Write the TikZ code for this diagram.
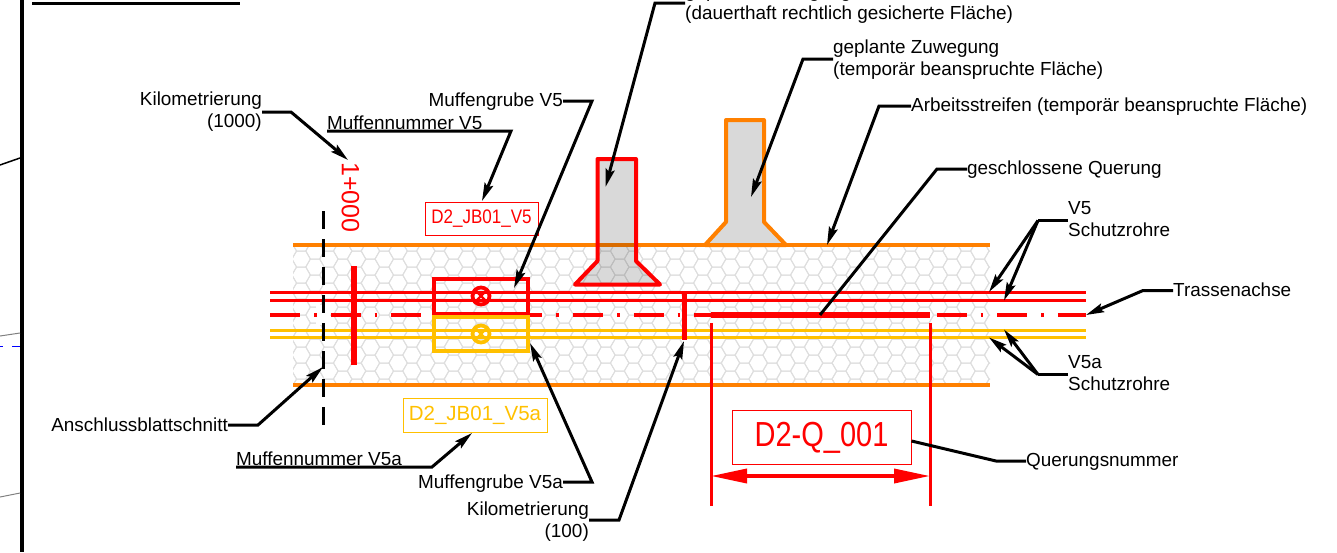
\documentclass[tikz,border=0pt]{standalone}
\usepackage{fontspec}
\setmainfont{Liberation Sans}
\usetikzlibrary{arrows.meta}

\definecolor{stripeorange}{RGB}{255,128,0}
\definecolor{pipeyellow}{RGB}{255,192,0}

\def\redfunnel{(597.5,159) -- (636,159) -- (636,261) -- (660,284.5) -- (575,284.5) -- (597.5,261) -- cycle}
\def\orangefunnel{(726,120) -- (764,120) -- (764,222) -- (786,245) -- (705,245) -- (726,222) -- cycle}
\def\redpit{(433.5,279) rectangle (528,313.5)}
\def\yellowpit{(433.5,316.8) rectangle (528,351)}

\tikzset{
  lbl/.style={inner sep=0pt, font=\fontsize{18.9}{22}\selectfont},
  leader/.style={draw=black, line width=3pt, line join=miter},
  tipped/.style={leader, -{Stealth[length=18pt,width=9pt,inset=3pt]}},
  tagbox/.style={draw, line width=1pt, inner sep=0pt, minimum height=33pt},
  funnel/.style={line width=4pt, fill=black, fill opacity=0.15, line join=round},
  hexline/.style={draw=black!13, line width=1pt},
}

\begin{document}
\begin{tikzpicture}[x=1pt,y=-1pt]
\useasboundingbox (0,0) rectangle (1337,552);

% sheet frame and neighbouring sheet
\draw[line width=4pt] (21.5,0) -- (21.5,552);
\draw[line width=3pt] (32,3) -- (240,3);
\draw[line width=1.5pt] (0,165) -- (20,158);
\draw[line width=1pt, gray] (0,336) -- (20,333);
\draw[line width=1pt, gray] (0,497) -- (20,493);
\draw[line width=.8pt, blue] (0,346) -- (3,346) (12,346) -- (20,346);

% hex filling of the working strip
\begin{scope}
  \clip (293,245) rectangle (990,385);
  \foreach \col in {0,...,52} {
    \foreach \row in {-1,...,9} {
      \pgfmathsetmacro\hexx{287.3+13.85*\col}
      \pgfmathsetmacro\hexy{251+16*\row+8*mod(\col,2)}
      \draw[hexline, shift={(\hexx,\hexy)}] (-9.235,0) -- (-4.62,-8) -- (4.62,-8) -- (9.235,0) -- (4.62,8) -- (-4.62,8) -- cycle;
    }
  }
\end{scope}
\fill[white] (316,305) rectangle (330,325);

% working strip
\begin{scope}[line width=4.5pt, stripeorange]
  \draw (293,245) -- (990,245);
  \draw (293,385) -- (990,385);
\end{scope}

\draw[funnel, draw=red] \redfunnel;
\draw[funnel, draw=stripeorange] \orangefunnel;

% ducts
\draw[red, line width=3.4pt] (270,292.5) -- (1086,292.5);
\draw[red, line width=3pt] (270,300) -- (1086,300);
\begin{scope}[pipeyellow, line width=3pt]
  \draw (270,330) -- (1086,330);
  \draw (270,337.7) -- (1086,337.7);
\end{scope}

% route axis
\draw[red, line width=3.8pt, dash pattern=on 30pt off 14pt on 2.6pt off 14pt] (270,315) -- (1086,315);

% joint pits
\draw[red, line width=4pt] \redpit;
\draw[pipeyellow, line width=4pt] \yellowpit;
\foreach \posy/\colr in {296/red,334/pipeyellow} {
  \draw[\colr, line width=3.8pt] (481,\posy) circle (8.5);
  \draw[\colr, line width=2.4pt] (476,\posy-5) -- (486,\posy+5) (486,\posy-5) -- (476,\posy+5);
}

% sheet cut and chainage marks
\draw[line width=3pt, dash pattern=on 18pt off 10pt] (323,211) -- (323,425);
\draw[red, line width=5.5pt] (354,266) -- (354,365);
\draw[red, line width=5pt] (684.5,292) -- (684.5,340);
\node[lbl, red, rotate=-90, font=\fontsize{25}{25}\selectfont] (chain) at (350.5,197.5) {1+000};

% closed crossing
\coordinate (qleft) at (711,476);
\coordinate (qright) at (930,476);
\draw[red, line width=5.5pt] (711,315) -- (930,315);
\draw[red, line width=3pt] (711,323) -- (711,506);
\draw[red, line width=3pt] (930,323) -- (930,506);
\draw[red, line width=3.6pt, {Triangle[length=36pt,width=14pt]}-{Triangle[length=36pt,width=14pt]}] (qleft) -- (qright);

% tags
\node[tagbox, red, minimum width=113pt, font=\fontsize{17}{17}\selectfont] (tagvfive) at (481.5,218.5) {\scalebox{1}[1.15]{D2\_JB01\_V5}};
\node[tagbox, pipeyellow, minimum width=144pt, minimum height=34pt, font=\fontsize{20.5}{20.5}\selectfont] (tagvfivea) at (475,415.5) {D2\_JB01\_V5a};
\node[tagbox, red, minimum width=179pt, minimum height=54pt, font=\fontsize{29}{29}\selectfont] (tagcross) at (821.5,437.5) {\scalebox{1}[1.2]{D2-Q\_001}};

% labels
\node[lbl, anchor=east, align=right] (kmthousand) at (262,112) {Kilometrierung\\(1000)};
\node[lbl, anchor=west] (numvfive) at (327,123) {Muffennummer V5};
\node[lbl, anchor=east] (pitvfive) at (563,102) {Muffengrube V5};
\node[lbl, anchor=west, align=left] (perm) at (685,4) {geplante Zuwegung\\(dauerthaft rechtlich gesicherte Fläche)};
\node[lbl, anchor=west, align=left] (temp) at (833,59.5) {geplante Zuwegung\\(temporär beanspruchte Fläche)};
\node[lbl, anchor=west] (strip) at (911,107) {Arbeitsstreifen (temporär beanspruchte Fläche)};
\node[lbl, anchor=west] (closed) at (967,170) {geschlossene Querung};
\node[lbl, anchor=west, align=left] (ductvfive) at (1068,219) {V5\\Schutzrohre};
\node[lbl, anchor=west] (axis) at (1173,290) {Trassenachse};
\node[lbl, anchor=west, align=left] (ductvfivea) at (1068,373) {V5a\\Schutzrohre};
\node[lbl, anchor=west] (crossnum) at (1026,462) {Querungsnummer};
\node[lbl, anchor=east] (sheetcut) at (228,425) {Anschlussblattschnitt};
\node[lbl, anchor=west] (numvfivea) at (236,459) {Muffennummer V5a};
\node[lbl, anchor=east] (pitvfivea) at (563,484) {Muffengrube V5a};
\node[lbl, anchor=east, align=right] (kmhundred) at (589,522) {Kilometrierung\\(100)};

% leader knees and tips
\coordinate (kmthousandknee) at (291,112);
\coordinate (kmthousandtip) at (348,160);
\coordinate (numvfiveknee) at (511,131);
\coordinate (numvfivetip) at (482,201);
\coordinate (pitvfiveknee) at (592,101);
\coordinate (pitvfivetip) at (514,288);
\coordinate (permknee) at (655,3);
\coordinate (permtip) at (605.5,187);
\coordinate (tempknee) at (803,59);
\coordinate (temptip) at (751,197);
\coordinate (stripknee) at (879,106);
\coordinate (striptip) at (827,245);
\coordinate (closedknee) at (937,169);
\coordinate (closedtip) at (820,315);
\coordinate (ductvfiveknee) at (1038,220.5);
\coordinate (ductupper) at (989,292);
\coordinate (ductlower) at (1004,300.5);
\coordinate (axisknee) at (1143,290.5);
\coordinate (axistip) at (1086,315);
\coordinate (ductvfiveaknee) at (1038,374.5);
\coordinate (ductyellowa) at (1004,329.5);
\coordinate (ductyellowb) at (989,337.5);
\coordinate (crossnumknee) at (996,461);
\coordinate (sheetcutknee) at (258,425);
\coordinate (sheetcuttip) at (323,367);
\coordinate (numvfiveaknee) at (432,467);
\coordinate (numvfiveatip) at (472,433);
\coordinate (pitvfiveaknee) at (592,482);
\coordinate (pitvfiveatip) at (530,343);
\coordinate (kmhundredknee) at (619,520);
\coordinate (kmhundredtip) at (684,341);

% leaders
\draw[tipped] (kmthousand.east |- kmthousandknee) -- (kmthousandknee) -- (kmthousandtip);
\draw[tipped] (numvfive.west |- numvfiveknee) -- (numvfiveknee) -- (numvfivetip);
\draw[tipped] (pitvfive.east |- pitvfiveknee) -- (pitvfiveknee) -- (pitvfivetip);
\draw[tipped] (perm.west |- permknee) -- (permknee) -- (permtip);
\draw[tipped] (temp.west |- tempknee) -- (tempknee) -- (temptip);
\draw[tipped] (strip.west |- stripknee) -- (stripknee) -- (striptip);
\draw[leader] (closed.west |- closedknee) -- (closedknee) -- (closedtip);
\draw[leader] (ductvfive.west |- ductvfiveknee) -- (ductvfiveknee);
\draw[tipped] (ductvfiveknee) -- (ductupper);
\draw[tipped] (ductvfiveknee) -- (ductlower);
\draw[tipped] (axis.west |- axisknee) -- (axisknee) -- (axistip);
\draw[leader] (ductvfivea.west |- ductvfiveaknee) -- (ductvfiveaknee);
\draw[tipped] (ductvfiveaknee) -- (ductyellowa);
\draw[tipped] (ductvfiveaknee) -- (ductyellowb);
\draw[leader] (crossnum.west |- crossnumknee) -- (crossnumknee) -- (tagcross.east |- 0,441);
\draw[tipped] (sheetcut.east) -- (sheetcutknee) -- (sheetcuttip);
\draw[tipped] (numvfivea.west |- numvfiveaknee) -- (numvfiveaknee) -- (numvfiveatip);
\draw[tipped] (pitvfivea.east |- pitvfiveaknee) -- (pitvfiveaknee) -- (pitvfiveatip);
\draw[tipped] (kmhundred.east |- kmhundredknee) -- (kmhundredknee) -- (kmhundredtip);
\end{tikzpicture}
\end{document}
